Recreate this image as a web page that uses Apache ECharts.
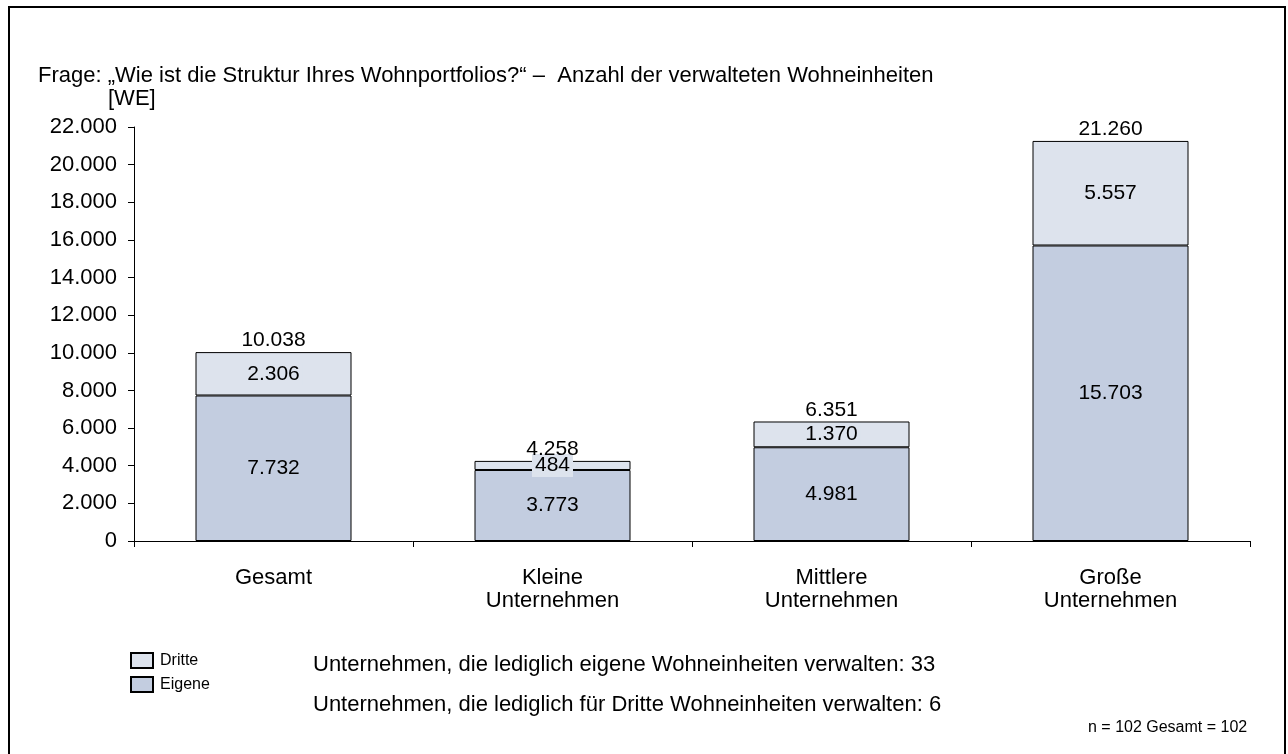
<!DOCTYPE html>
<html>
<head>
<meta charset="utf-8">
<script src="https://cdn.jsdelivr.net/npm/echarts@6/dist/echarts.min.js"></script>
<style>
html,body{margin:0;padding:0;background:#fff;}
#chart{width:1288px;height:754px;}
</style>
</head>
<body>
<div id="chart"></div>
<script>
const categories = ['Gesamt', 'Kleine\nUnternehmen', 'Mittlere\nUnternehmen', 'Große\nUnternehmen'];
const eigene = [7732, 3773, 4981, 15703];
const dritte = [2306, 484, 1370, 5557];
const totals = [10038, 4258, 6351, 21260];
const yTicks = [0, 2000, 4000, 6000, 8000, 10000, 12000, 14000, 16000, 18000, 20000, 22000];

const FONT = '"Liberation Sans", Arial, sans-serif';
const fmt = v => String(v).replace(/\B(?=(\d{3})+(?!\d))/g, '.');
const C_EIG = '#c3cde0';
const C_DRI = '#dde3ed';
const FS = 21;
const FT = 22;

const chart = echarts.init(document.getElementById('chart'), null, {renderer: 'canvas'});
chart.setOption({
  animation: false,
  backgroundColor: '#ffffff',
  textStyle: {fontFamily: FONT},
  grid: {left: 134, right: 38, top: 127, bottom: 213},
  legend: {
    orient: 'vertical', left: 130, top: 652, padding: 0,
    icon: 'rect',
    itemWidth: 22, itemHeight: 15, itemGap: 7,
    data: ['Dritte', 'Eigene'],
    textStyle: {fontFamily: FONT, fontSize: 16, color: '#000', padding: [2, 0, 0, 2]},
    itemStyle: {borderColor: '#000', borderWidth: 2}
  },
  xAxis: {
    type: 'category', data: categories,
    axisLine: {lineStyle: {color: '#000', width: 1}},
    axisTick: {show: true, alignWithLabel: false, length: 6, lineStyle: {color: '#000'}},
    axisLabel: {fontFamily: FONT, fontSize: FT, color: '#000', margin: 25, lineHeight: 23}
  },
  yAxis: {
    type: 'value', min: 0, max: 22000, interval: 2000,
    axisLine: {show: true, lineStyle: {color: '#000'}},
    axisTick: {show: true, length: 6, lineStyle: {color: '#000'}},
    splitLine: {show: false},
    axisLabel: {fontFamily: FONT, fontSize: FT, color: '#000', margin: 17, formatter: v => fmt(v)}
  },
  series: [
    {
      name: 'Eigene', type: 'bar', stack: 's', barWidth: 156, data: eigene,
      itemStyle: {color: C_EIG, borderColor: '#000', borderWidth: 1},
      label: {show: true, position: 'inside', fontFamily: FONT, fontSize: FS, color: '#000', formatter: p => fmt(p.value)}
    },
    {
      name: 'Dritte', type: 'bar', stack: 's', barWidth: 156, data: dritte,
      itemStyle: {color: C_DRI, borderColor: '#000', borderWidth: 1},
      label: {show: true, position: 'inside', fontFamily: FONT, fontSize: FS, color: '#000',
        backgroundColor: C_DRI, padding: [2, 3, 0, 3], formatter: p => fmt(p.value)}
    },
    {
      name: 'Summe', type: 'scatter', data: totals, symbolSize: 0, silent: true,
      itemStyle: {opacity: 1},
      label: {show: true, position: 'top', distance: 1, fontFamily: FONT, fontSize: FS, color: '#000', formatter: p => fmt(p.value)}
    }
  ],
  graphic: [
    {type: 'rect', shape: {x: 9, y: 7, width: 1276, height: 760}, style: {fill: 'none', stroke: '#000', lineWidth: 2}, silent: true},
    {type: 'text', left: 38, top: 65, style: {text: 'Frage: „Wie ist die Struktur Ihres Wohnportfolios?“ –  Anzahl der verwalteten Wohneinheiten', font: '22px ' + FONT, fill: '#000'}},
    {type: 'text', left: 108, top: 88, style: {text: '[WE]', font: '22px ' + FONT, fill: '#000'}},
    {type: 'text', left: 313, top: 654, style: {text: 'Unternehmen, die lediglich eigene Wohneinheiten verwalten: 33', font: '22px ' + FONT, fill: '#000'}},
    {type: 'text', left: 313, top: 694, style: {text: 'Unternehmen, die lediglich für Dritte Wohneinheiten verwalten: 6', font: '22px ' + FONT, fill: '#000'}},
    {type: 'text', left: 1088, top: 720, style: {text: 'n = 102 Gesamt = 102', font: '16px ' + FONT, fill: '#000'}}
  ]
});
</script>
</body>
</html>
